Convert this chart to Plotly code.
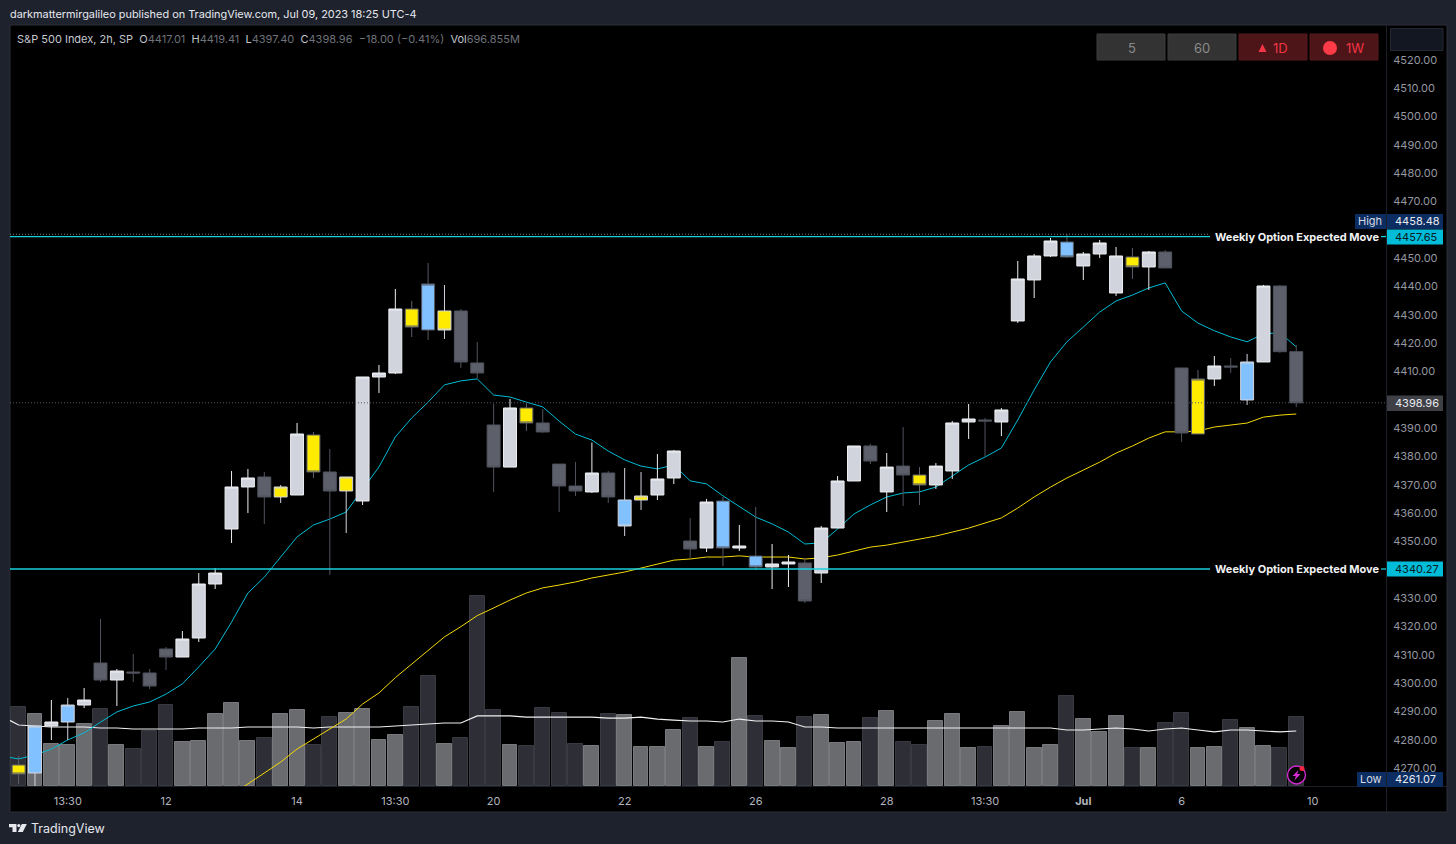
import plotly.graph_objects as go

# ---------- data ----------
kinds = ["YD","BL","W","BL","W","G","W","G","G","G",
         "W","W","W","W","W","G","YL","W","YD","G",
         "YL","W","W","W","YD","BD","YL","G","G","G",
         "W","YD","G","G","G","W","G","BL","YL","W",
         "W","G","W","BD","W","BD","W","W","G","W",
         "W","W","G","W","G","YD","W","W","W","G",
         "W","W","W","W","BD","W","W","W","YD","W",
         "G","G","YD","W","G","BL","W","G","G"]
open_ = [4271.06,4268.23,4284.83,4286.24,4292.24,4307.07,4301.07,4303.90,4303.54,4312.02,
         4309.19,4315.90,4334.97,4354.39,4369.23,4372.76,4365.70,4366.40,4387.59,4374.53,
         4367.82,4364.28,4408.07,4409.48,4432.08,4424.66,4431.38,4431.38,4413.02,4391.12,
         4376.26,4397.13,4391.83,4377.32,4369.58,4367.47,4374.17,4364.63,4364.63,4366.40,
         4372.41,4350.15,4347.68,4364.28,4347.68,4344.86,4340.98,4342.04,4342.39,4338.85,
         4354.74,4371.35,4383.71,4367.47,4376.61,4373.47,4369.94,4374.88,4392.18,4392.89,
         4392.18,4427.85,4442.33,4450.80,4455.74,4447.27,4451.50,4437.73,4450.45,4446.92,
         4452.21,4411.25,4387.94,4407.37,4411.96,4399.95,4413.37,4440.20,4417.01]
high = [4274.24,4284.83,4294.01,4294.72,4298.25,4322.61,4304.96,4310.25,4304.96,4312.73,
        4318.37,4338.85,4340.62,4374.88,4375.59,4374.53,4369.94,4391.83,4388.65,4382.65,
        4372.76,4408.07,4412.31,4439.15,4434.91,4448.32,4440.56,4432.08,4420.43,4398.54,
        4400.30,4398.89,4396.77,4377.32,4378.03,4384.94,4374.88,4375.94,4374.53,4380.88,
        4382.30,4358.27,4364.98,4365.70,4355.80,4362.16,4349.10,4345.21,4344.16,4355.45,
        4373.12,4383.71,4384.41,4381.23,4390.41,4376.26,4377.67,4392.53,4398.54,4393.59,
        4397.13,4449.03,4451.50,4457.16,4458.48,4452.21,4456.45,4453.98,4453.63,4452.56,
        4452.92,4411.25,4410.55,4415.49,4414.78,4416.20,4440.56,4440.56,4419.41]
low = [4264.35,4261.07,4279.89,4279.89,4291.19,4300.36,4291.89,4300.36,4297.89,4304.60,
       4309.19,4314.49,4333.20,4349.45,4360.04,4356.16,4363.57,4366.40,4372.41,4338.15,
       4352.98,4362.86,4402.42,4409.12,4422.19,4421.14,4421.49,4411.25,4407.72,4367.47,
       4376.26,4389.00,4388.30,4360.39,4366.05,4367.12,4363.57,4351.92,4361.10,4364.63,
       4370.29,4344.16,4346.27,4341.32,4346.62,4339.92,4333.20,4333.91,4328.26,4335.32,
       4354.74,4371.35,4377.32,4360.39,4362.51,4362.86,4368.53,4372.05,4386.18,4380.18,
       4387.24,4427.14,4435.96,4450.45,4450.09,4442.33,4450.09,4436.67,4442.68,4438.82,
       4446.57,4385.12,4387.94,4404.90,4409.48,4398.19,4413.37,4416.60,4397.40]
close = [4267.88,4284.83,4286.24,4292.24,4294.01,4301.07,4304.25,4303.54,4298.95,4309.19,
         4315.55,4334.97,4338.85,4369.23,4372.41,4365.70,4369.23,4387.94,4374.53,4367.82,
         4372.76,4408.07,4409.48,4432.08,4425.72,4440.91,4424.66,4413.37,4409.48,4376.26,
         4397.13,4391.83,4388.65,4369.58,4367.82,4374.17,4365.70,4355.45,4366.05,4372.05,
         4381.94,4347.33,4363.92,4347.68,4348.39,4340.98,4342.04,4342.74,4328.97,4354.74,
         4371.35,4383.71,4378.41,4376.26,4373.47,4369.94,4376.61,4391.83,4393.24,4392.53,
         4396.42,4442.68,4450.80,4456.09,4450.45,4451.50,4455.39,4450.80,4446.92,4452.21,
         4446.57,4388.30,4407.37,4411.96,4411.60,4413.37,4440.20,4417.01,4398.96]
# the averages also have a value for the bar just left of the visible window (index -1)
ema_fast = [4274.2,
            4273.2,4274.6,4276.7,4279.9,4282.4,4286.2,4289.8,4291.9,4293.3,4296.1,
            4299.7,4305.7,4312.0,4321.5,4331.8,4337.4,4344.5,4351.6,4355.8,4357.9,
            4360.4,4368.5,4376.3,4386.9,4393.6,4399.2,4405.3,4406.7,4407.4,4401.7,
            4401.0,4399.2,4397.5,4392.5,4387.9,4385.8,4381.9,4378.8,4376.6,4375.6,
            4377.0,4371.4,4370.3,4366.1,4362.5,4358.6,4356.2,4353.3,4349.1,4349.5,
            4354.4,4359.7,4362.9,4365.7,4367.1,4367.5,4369.2,4373.1,4377.0,4379.8,
            4383.0,4392.9,4403.5,4413.4,4420.5,4425.7,4431.0,4434.9,4437.0,4439.5,
            4441.3,4431.4,4427.1,4424.4,4422.2,4420.5,4423.3,4423.7,4418.7]
ema_slow = [None]*14 + [
            4260.5,4264.4,4268.2,4272.1,4276.7,4280.2,4283.8,4287.3,4292.6,4296.5,
            4301.9,4306.8,4311.7,4316.3,4319.9,4323.8,4326.5,4329.3,4331.8,4333.6,
            4334.6,4335.7,4337.1,4338.1,4339.2,4340.6,4342.0,4343.4,4343.8,4344.5,
            4344.5,4344.9,4344.5,4344.5,4344.5,4343.8,4344.2,4345.2,4346.6,4348.0,
            4348.7,4349.8,4350.8,4351.9,4353.3,4354.7,4356.5,4358.3,4361.8,4365.7,
            4369.2,4372.4,4375.2,4378.0,4381.2,4383.7,4386.5,4388.7,4388.7,4389.0,
            4390.4,4391.1,4391.8,4393.9,4394.6,4395.0]
volume = [794,724,422,412,623,774,412,372,553,814,
          442,452,724,834,452,482,724,764,412,693,
          734,774,462,513,794,1106,422,482,1910,764,
          412,402,784,734,422,402,724,714,392,392,
          563,683,392,442,1286,704,452,382,693,714,
          432,442,683,754,442,412,653,724,382,392,
          603,744,382,412,905,673,543,704,382,382,
          633,734,382,392,663,583,402,382,697]
vol_kind = list("dgggg" "dgddd" "ggggg" "dggdd" "ggggd" "dgddd"
                "gdddd" "gdggg" "gdgdg" "dggdg" "ggdgd" "dgggd"
                "ggggd" "gggdg" "ddggd" "ggdd")
vol_ma = [700,
          613,603,593,593,593,583,583,573,573,573,
          573,583,583,583,593,593,593,593,583,593,
          593,593,593,603,613,623,633,633,704,704,
          704,693,693,693,693,693,683,683,693,673,
          663,653,653,643,673,653,653,643,593,593,
          583,583,583,583,583,583,583,583,583,583,
          583,583,583,583,563,563,573,583,573,553,
          573,583,563,543,563,563,553,543,553]
upper_level = 4457.65
lower_level = 4340.27
high_level = 4458.48
last_level = 4398.96
price_ticks = [4520,4510,4500,4490,4480,4470,4450,4440,4430,4420,4410,4390,4380,
               4370,4360,4350,4330,4320,4310,4300,4290,4280,4270]
time_tick_pos = [3,9,17,23,29,37,45,53,59,65,71,79]
time_tick_txt = ["13:30","12","14","13:30","20","22","26","28","13:30","<b>Jul</b>","6","10"]

# ---------- layout helpers ----------
W, H = 1456, 844
L, R, T, B = 10, 1386, 26, 786
FONT = "Inter, Roboto, sans-serif"
def px(x): return (x - L) / (R - L)
def py(y): return (B - y) / (B - T)
x_step = 16.38
x0_px = 18.6
def xval(x): return (x - x0_px) / x_step
PX_PER_PT = 2.832
def pval(y): return 4520 - (y - 60) / PX_PER_PT
VOL_PER_PX = 10.05

xs = list(range(len(kinds)))
xs_ma = [-1] + xs
fig = go.Figure()

# volume pane (bottom layer)
vol_fill = {"g": "#6a6b6f", "d": "#2e2f36"}
vol_edge = {"g": "#78797d", "d": "#383941"}
fig.add_trace(go.Bar(x=xs, y=volume, yaxis="y", width=0.91,
                     marker=dict(color=[vol_fill[k] for k in vol_kind],
                                 line=dict(color=[vol_edge[k] for k in vol_kind], width=1)),
                     hoverinfo="skip", showlegend=False))
fig.add_trace(go.Scatter(x=xs_ma, y=vol_ma, yaxis="y", mode="lines",
                         line=dict(color="#f0f0f0", width=1.2), hoverinfo="skip", showlegend=False))

# moving averages (under the candles)
fig.add_trace(go.Scatter(x=xs_ma, y=ema_fast, yaxis="y2", mode="lines",
                         line=dict(color="#00bcd4", width=1), hoverinfo="skip", showlegend=False))
fig.add_trace(go.Scatter(x=xs_ma, y=ema_slow, yaxis="y2", mode="lines",
                         line=dict(color="#f5d90a", width=1), hoverinfo="skip", showlegend=False))

# candles, one trace per colour style
styles = {"W":  ("#d1d4dc", "#eceef2"),
          "G":  ("#5d606b", "#50535e"),
          "YL": ("#ffeb00", "#d1d4dc"),
          "YD": ("#ffeb00", "#5d606b"),
          "BL": ("#82c1ff", "#d1d4dc"),
          "BD": ("#82c1ff", "#565963")}
for kind, (fill, edge) in styles.items():
    mask = [k == kind for k in kinds]
    pick = lambda arr: [v if m else None for v, m in zip(arr, mask)]
    side = dict(fillcolor=fill, line=dict(color=edge, width=1))
    fig.add_trace(go.Candlestick(x=xs, open=pick(open_), high=pick(high), low=pick(low), close=pick(close),
                                 yaxis="y3", increasing=side, decreasing=side, whiskerwidth=0,
                                 hoverinfo="skip", showlegend=False))

# horizontal levels (above the candles)
xl, xr = xval(L), xval(R)
xlabel = xval(1210)
def hline(level, color, width, dash="solid", end=xr):
    fig.add_trace(go.Scatter(x=[xl, end], y=[level, level], yaxis="y3", mode="lines",
                             line=dict(color=color, width=width, dash=dash),
                             hoverinfo="skip", showlegend=False))
hline(last_level, "#585b62", 1, "1px,2px")
hline(high_level, "#7a7d85", 1, "1px,2px", xlabel)
hline(upper_level, "#17d0dc", 1.3, "solid", xlabel)
hline(lower_level, "#17d0dc", 1.3, "solid", xlabel)
for lv in (upper_level, lower_level):
    fig.add_trace(go.Scatter(x=[xval(1381), xr], y=[lv, lv], yaxis="y3", mode="lines",
                             line=dict(color="#17d0dc", width=1.3), hoverinfo="skip", showlegend=False))

shapes, annos = [], []
def rect(x0, y0, x1, y1, fill, line=None, layer="below"):
    shapes.append(dict(type="rect", xref="paper", yref="paper", x0=px(x0), x1=px(x1), y0=py(y0), y1=py(y1),
                       fillcolor=fill, line=dict(color=line or fill, width=1 if line else 0), layer=layer))
def text(x, y, s, color="#d1d4dc", size=11, anchor="left"):
    annos.append(dict(xref="paper", yref="paper", x=px(x), y=py(y), text=s, showarrow=False,
                      xanchor=anchor, yanchor="middle", align=anchor,
                      font=dict(color=color, size=size, family=FONT), borderpad=0))
def path(pts, fill):
    d = "M" + " L".join(f"{px(a):.5f},{py(b):.5f}" for a, b in pts) + " Z"
    shapes.append(dict(type="path", xref="paper", yref="paper", path=d, fillcolor=fill, line=dict(width=0), layer="above"))

# panes and separators
rect(10, 25, 1447, 812, "#000000", "#2a2e39")
shapes.append(dict(type="line", xref="paper", yref="paper", x0=px(1386.5), x1=px(1386.5), y0=py(25), y1=py(812),
                   line=dict(color="#1c1f27", width=1), layer="above"))
shapes.append(dict(type="line", xref="paper", yref="paper", x0=px(10), x1=px(1447), y0=py(786.5), y1=py(786.5),
                   line=dict(color="#1c1f27", width=1), layer="above"))

# header and legend
text(9, 14, "darkmattermirgalileo published on TradingView.com, Jul 09, 2023 18:25 UTC-4", "#e6e8ee", 10.9)
dim = "#6f727a"
legend = ("S&amp;P 500 Index, 2h, SP&nbsp; O<span style='color:%s'>4417.01</span>&nbsp; H<span style='color:%s'>4419.41</span>"
          "&nbsp; L<span style='color:%s'>4397.40</span>&nbsp; C<span style='color:%s'>4398.96</span>&nbsp; "
          "<span style='color:%s'>−18.00 (−0.41%%)</span>&nbsp; Vol<span style='color:%s'>696.855M</span>") % ((dim,)*6)
text(16, 39, legend, "#c4c7cf", 11)

# interval buttons
for (x0, x1, fill, edge) in [(1097,1165,"#333333","#3c3c3c"),(1168,1236,"#333333","#3c3c3c"),
                             (1239,1307,"#4d1518","#571a1c"),(1310,1378,"#4d1518","#571a1c")]:
    rect(x0, 34, x1, 60, fill, edge, layer="above")
text(1131.5, 47.5, "5", "#8a8a8a", 13, "center")
text(1202, 47.5, "60", "#8a8a8a", 13, "center")
text(1280, 47.5, "1D", "#f23645", 13, "center")
text(1355, 47.5, "1W", "#f23645", 13, "center")
path([(1258.5,52),(1262.5,44),(1266.5,52)], "#f23645")
shapes.append(dict(type="circle", xref="paper", yref="paper", x0=px(1323), x1=px(1337), y0=py(41), y1=py(55),
                   fillcolor="#ff3b47", line=dict(width=0), layer="above"))
rect(1390.5, 28.5, 1443, 50.5, "#131722", "#242833", layer="above")

# "Weekly Option Expected Move" labels and axis tags
text(1214, 237, "<b>Weekly Option Expected Move</b>", "#f2f3f5", 11)
text(1214, 568.5, "<b>Weekly Option Expected Move</b>", "#f2f3f5", 11)
def tag(x0, y0, x1, y1, s, fill, color, anchor="left", tx=None):
    rect(x0, y0, x1, y1, fill, layer="above")
    text(tx if tx is not None else x0 + 7, (y0 + y1) / 2 - 0.3, s, color, 11, anchor)
tag(1355, 214, 1386, 229, "High", "#0b2d62", "#d8dbe2", "center", 1370)
tag(1387, 214, 1443, 229, "4458.48", "#0b2d62", "#e8eaef")
tag(1387, 229.5, 1443, 244.5, "4457.65", "#00bcd9", "#0b1a22")
tag(1387, 395.5, 1443, 411, "4398.96", "#3f4046", "#e8eaef")
tag(1387, 561.5, 1443, 576.5, "4340.27", "#00bcd9", "#0b1a22")
tag(1357, 772, 1386, 787, "Low", "#0b2d62", "#d8dbe2", "center", 1371)
tag(1387, 772, 1443, 787, "4261.07", "#0b2d62", "#e8eaef")

# lightning badge
shapes.append(dict(type="circle", xref="paper", yref="paper", x0=px(1287.5), x1=px(1305.5), y0=py(766), y1=py(784),
                   fillcolor="#000000", line=dict(color="#d32bd3", width=1.4), layer="above"))
path([(1298.5,770),(1292.5,776),(1295.8,776),(1294.5,780.5),(1300.5,774),(1297.2,774)], "#d32bd3")
shapes.append(dict(type="circle", xref="paper", yref="paper", x0=px(1299.5), x1=px(1304.5), y0=py(766), y1=py(771),
                   fillcolor="#f7253f", line=dict(width=0), layer="above"))

# TradingView mark and wordmark
path([(9,824),(16.5,824),(16.5,832),(12.5,832),(12.5,827.2),(9,827.2)], "#e6e8ee")
shapes.append(dict(type="circle", xref="paper", yref="paper", x0=px(17.2), x1=px(20.4), y0=py(824), y1=py(827.2),
                   fillcolor="#e6e8ee", line=dict(width=0), layer="above"))
path([(21.8,824),(26.8,824),(22.8,832),(17.8,832)], "#e6e8ee")
text(30, 828.5, "TradingView", "#e6e8ee", 12.5)

fig.update_layout(
    width=W, height=H, autosize=False,
    margin=dict(l=L, r=W - R, t=T, b=H - B, pad=0),
    paper_bgcolor="#1e222d", plot_bgcolor="#000000",
    font=dict(family=FONT, color="#b2b5be", size=11),
    boxmode="overlay", boxgap=0.21, boxgroupgap=0, bargap=0, showlegend=False,
    xaxis=dict(range=[xl, xr], tickmode="array", tickvals=time_tick_pos, ticktext=time_tick_txt,
               showgrid=False, zeroline=False, showline=False, ticks="outside", ticklen=5,
               tickcolor="rgba(0,0,0,0)", tickfont=dict(color="#b2b5be", size=11, family=FONT),
               rangeslider=dict(visible=False), fixedrange=True),
    yaxis=dict(range=[0, (B - T) * VOL_PER_PX], visible=False, fixedrange=True),
    yaxis2=dict(range=[pval(B), pval(T)], overlaying="y", visible=False, fixedrange=True),
    yaxis3=dict(range=[pval(B), pval(T)], overlaying="y", side="right", tickmode="array",
                tickvals=price_ticks, tickformat=".2f", showgrid=False, zeroline=False, showline=False,
                ticks="outside", ticklen=4, tickcolor="rgba(0,0,0,0)", automargin=False,
                tickfont=dict(color="#9598a1", size=11, family=FONT), fixedrange=True),
    shapes=shapes, annotations=annos,
)

fig.write_html("out.html", config=dict(displayModeBar=False),
               post_script="document.body.style.margin='0';document.body.style.overflow='hidden';"
                           "document.body.style.background='#1e222d';")
